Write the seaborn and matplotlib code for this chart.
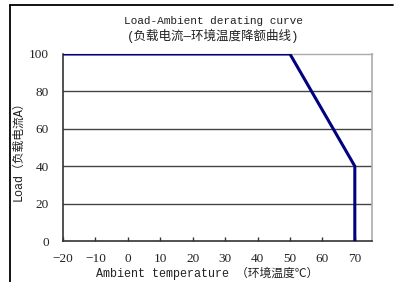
import matplotlib
matplotlib.use("Agg")
import matplotlib.pyplot as plt
import seaborn as sns
import pandas as pd
from matplotlib.lines import Line2D

# derating curve points
temps = [-20, 50, 70, 70]
loads = [100, 100, 40, 0]
x_ticks = [-20, -10, 0, 10, 20, 30, 40, 50, 60, 70]
x_labels = ["\u221220", "\u221210", "0", "10", "20", "30", "40", "50", "60", "70"]
y_ticks = [0, 20, 40, 60, 80, 100]

df = pd.DataFrame({"temp": temps, "load": loads})

sns.set_theme(style="white")
fam = ["Liberation Mono", "Noto Sans CJK SC", "DejaVu Sans"]
num_fam = ["Liberation Serif", "DejaVu Serif"]

fig = plt.figure(figsize=(3.98, 2.82), dpi=100)
ax = fig.add_axes([63 / 398, 1 - 241 / 282, (372 - 63) / 398, (241 - 54) / 282])

# estimator=None keeps both points at 70 (no averaging)
sns.lineplot(data=df, x="temp", y="load", sort=False, estimator=None,
             color="#000080", linewidth=2.2, ax=ax, zorder=3)

ax.set_xlim(-20, 75.3)
ax.set_ylim(0, 100)
ax.set_xticks(x_ticks)
ax.set_yticks(y_ticks)
ax.set_xticklabels(x_labels, family=num_fam, fontsize=9.5, color="#222222")
ax.set_yticklabels([str(t) for t in y_ticks], family=num_fam, fontsize=9.5, color="#222222")
ax.tick_params(axis="x", direction="in", length=3, width=1, color="#333333", pad=9, bottom=True)
ax.tick_params(axis="y", length=0, pad=10)

for v in y_ticks[1:-1]:
    ax.axhline(v, color="#444444", linewidth=1, zorder=1)

ax.spines["left"].set_color("#333333")
ax.spines["bottom"].set_color("#333333")
ax.spines["left"].set_linewidth(1.2)
ax.spines["bottom"].set_linewidth(1.2)
ax.spines["top"].set_color("#aaaaaa")
ax.spines["right"].set_color("#aaaaaa")
ax.spines["top"].set_linewidth(1)
ax.spines["right"].set_linewidth(1.2)

ax.set_xlabel("")
ax.set_ylabel("")
fig.text(207 / 398, 1 - 277 / 282, "Ambient temperature （环境温度℃）", family=fam,
         fontsize=8.5, ha="center", va="baseline", color="#222222")
fig.text(18 / 398, 1 - 148 / 282, "Load（负载电流A）", family=fam, fontsize=8.5,
         rotation=90, ha="center", va="center", color="#222222")
fig.text(213 / 398, 1 - 24 / 282, "Load-Ambient derating curve", family=fam,
         fontsize=8, ha="center", va="baseline", color="#222222")
fig.text(213 / 398, 1 - 40 / 282, "(负载电流—环境温度降额曲线)", family=fam,
         fontsize=9, ha="center", va="baseline", color="#222222")

# outer frame (left and top edges)
fig.add_artist(Line2D([9.5 / 398, 9.5 / 398], [0, 1 - 5 / 282], color="black", linewidth=1.3))
fig.add_artist(Line2D([9.5 / 398, 393 / 398], [1 - 5 / 282, 1 - 5 / 282], color="black", linewidth=1.3))

fig.savefig("out.png", dpi=100)
